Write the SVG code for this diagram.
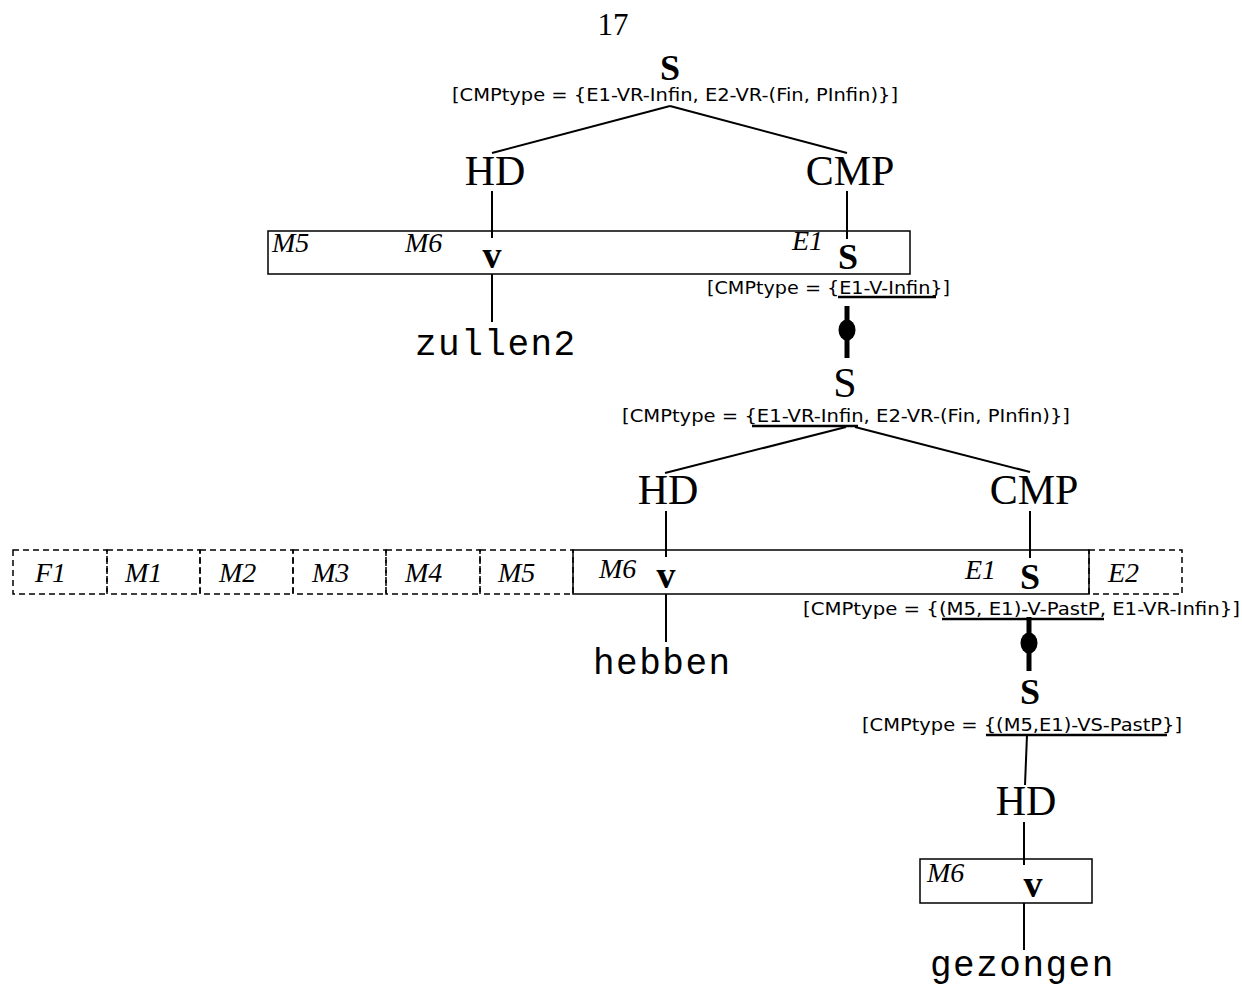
<svg xmlns="http://www.w3.org/2000/svg" width="1242" height="988" viewBox="0 0 1242 988">
<style>
.serif{font-family:"Liberation Serif","DejaVu Serif",serif;fill:#000}
.cat{font-family:"Liberation Serif",serif;font-size:42px;text-anchor:middle}
.sb{font-family:"Liberation Serif",serif;font-weight:bold;font-size:36px;text-anchor:middle}
.vb{font-family:"Liberation Serif",serif;font-weight:bold;font-size:38px;text-anchor:middle}
.it{font-family:"Liberation Serif",serif;font-style:italic;font-size:28px}
.lab{font-family:"DejaVu Sans","Liberation Sans",sans-serif;font-size:17.5px}
.word{font-family:"Liberation Mono","DejaVu Sans Mono",monospace;font-size:36px;letter-spacing:1.5px}
.ln{stroke:#000;stroke-width:2;fill:none}
.ul{stroke:#000;stroke-width:2.5;fill:none}
.thick{stroke:#000;stroke-width:5;fill:none}
.box{fill:none;stroke:#000;stroke-width:1.5}
.dbox{fill:none;stroke:#000;stroke-width:1.5;stroke-dasharray:6,4}
</style>
<text x="613" y="35" class="serif" font-size="31" text-anchor="middle">17</text>

<g id="connectors">
  <line class="ln" x1="670" y1="106" x2="492" y2="153"/>
  <line class="ln" x1="670" y1="106" x2="847" y2="153"/>
  <line class="ln" x1="492" y1="191" x2="492" y2="238"/>
  <line class="ln" x1="847" y1="191" x2="847" y2="239"/>
  <line class="ln" x1="492" y1="274" x2="492" y2="322"/>
  <line class="thick" x1="847" y1="306" x2="847" y2="358"/>
  <ellipse cx="847" cy="330" rx="8.5" ry="10.5" fill="#000"/>
  <line class="ln" x1="846" y1="427" x2="665" y2="473"/>
  <line class="ln" x1="855" y1="427" x2="1030" y2="472"/>
  <line class="ln" x1="666" y1="511" x2="666" y2="557"/>
  <line class="ln" x1="1030" y1="511" x2="1030" y2="558"/>
  <line class="ln" x1="666" y1="594" x2="666" y2="642"/>
  <line class="thick" x1="1029" y1="617" x2="1029" y2="671"/>
  <ellipse cx="1029" cy="643" rx="8.5" ry="10.5" fill="#000"/>
  <line class="ln" x1="1027" y1="735" x2="1025" y2="785"/>
  <line class="ln" x1="1024" y1="822" x2="1024" y2="865"/>
  <line class="ln" x1="1024" y1="903" x2="1024" y2="950"/>
</g>

<g id="S-top">
  <text x="670" y="80" class="sb">S</text>
  <text x="452" y="101" class="lab" textLength="446" lengthAdjust="spacingAndGlyphs">[CMPtype = {E1-VR-Infin, E2-VR-(Fin, PInfin)}]</text>
</g>
<g id="HD1"><text x="495" y="185" class="cat">HD</text></g>
<g id="CMP1"><text x="850" y="185" class="cat">CMP</text></g>

<g id="box1">
  <rect class="box" x="268" y="231" width="642" height="43"/>
  <text x="272" y="252" class="it">M5</text>
  <text x="405" y="252" class="it">M6</text>
  <text x="792" y="250" class="it">E1</text>
  <text x="492" y="268" class="vb">v</text>
  <text x="848" y="269" class="sb">S</text>
</g>
<g id="zullen2"><text x="415" y="355" class="word">zullen2</text></g>
<g id="label-E1-V-Infin">
  <text x="707" y="294" class="lab" textLength="243" lengthAdjust="spacingAndGlyphs">[CMPtype = {E1-V-Infin}]</text>
  <line class="ul" x1="838" y1="297" x2="936" y2="297"/>
</g>

<g id="S-mid">
  <text x="845" y="397" class="cat" font-size="38">S</text>
  <text x="622" y="422" class="lab" textLength="448" lengthAdjust="spacingAndGlyphs">[CMPtype = {E1-VR-Infin, E2-VR-(Fin, PInfin)}]</text>
  <line class="ul" x1="752" y1="426" x2="858" y2="426"/>
</g>
<g id="HD2"><text x="668" y="504" class="cat">HD</text></g>
<g id="CMP2"><text x="1034" y="504" class="cat">CMP</text></g>

<g id="fields">
  <rect class="dbox" x="13" y="550" width="94" height="44"/>
  <rect class="dbox" x="107" y="550" width="93" height="44"/>
  <rect class="dbox" x="200" y="550" width="93" height="44"/>
  <rect class="dbox" x="293" y="550" width="93" height="44"/>
  <rect class="dbox" x="386" y="550" width="94" height="44"/>
  <rect class="dbox" x="480" y="550" width="93" height="44"/>
  <rect class="dbox" x="1089" y="550" width="93" height="44"/>
  <rect class="box" x="573" y="550" width="516" height="44"/>
  <text x="35" y="582" class="it">F1</text>
  <text x="125" y="582" class="it">M1</text>
  <text x="219" y="582" class="it">M2</text>
  <text x="312" y="582" class="it">M3</text>
  <text x="405" y="582" class="it">M4</text>
  <text x="498" y="582" class="it">M5</text>
  <text x="599" y="578" class="it">M6</text>
  <text x="965" y="579" class="it">E1</text>
  <text x="1108" y="582" class="it">E2</text>
  <text x="666" y="588" class="vb">v</text>
  <text x="1030" y="589" class="sb">S</text>
</g>
<g id="hebben"><text x="593" y="674" class="word">hebben</text></g>
<g id="label-PastP">
  <text x="803" y="615" class="lab" textLength="437" lengthAdjust="spacingAndGlyphs">[CMPtype = {(M5, E1)-V-PastP, E1-VR-Infin}]</text>
  <line class="ul" x1="942" y1="619" x2="1104" y2="619"/>
</g>

<g id="S-bottom">
  <text x="1030" y="704" class="sb">S</text>
  <text x="862" y="731" class="lab" textLength="320" lengthAdjust="spacingAndGlyphs">[CMPtype = {(M5,E1)-VS-PastP}]</text>
  <line class="ul" x1="986" y1="735" x2="1167" y2="735"/>
</g>
<g id="HD3"><text x="1026" y="815" class="cat">HD</text></g>
<g id="box3">
  <rect class="box" x="920" y="859" width="172" height="44"/>
  <text x="927" y="882" class="it">M6</text>
  <text x="1033" y="897" class="vb">v</text>
</g>
<g id="gezongen"><text x="930" y="976" class="word" font-size="35" letter-spacing="3">gezongen</text></g>
</svg>
